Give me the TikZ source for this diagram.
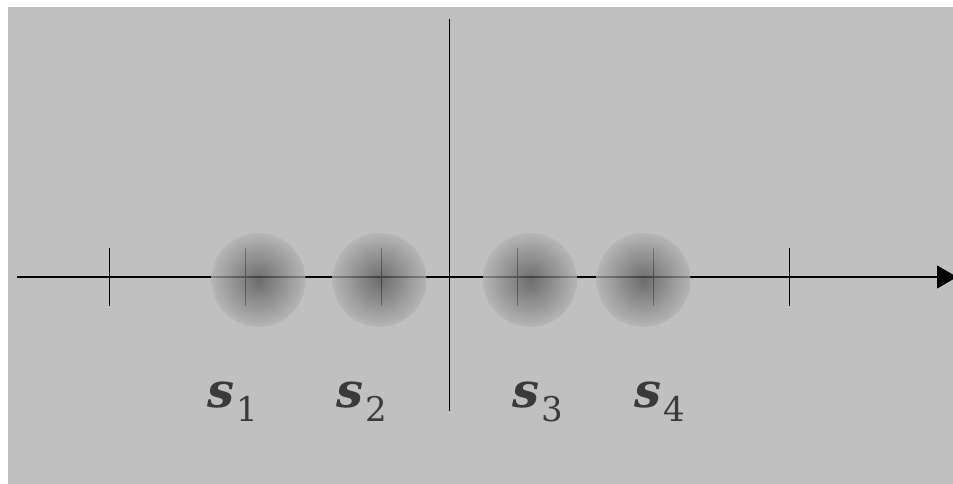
\documentclass[tikz,border=0pt]{standalone}
\usepackage{fontspec}
\setmainfont{DejaVu Serif}
\usepackage{xcolor}
\usetikzlibrary{arrows.meta}
\definecolor{panel}{HTML}{C0C0C0}
\definecolor{lblgray}{HTML}{3A3A3A}

\newcommand{\slabel}[1]{{\fontsize{48}{48}\selectfont\bfseries\itshape s}\kern2pt\raisebox{-14pt}{\fontsize{34}{34}\selectfont #1}}

\begin{document}
\begin{tikzpicture}[x=1pt, y=-1pt,
  axis/.style={line width=1.1pt, black},
  tick/.style={line width=1.1pt, black},
  blob/.style={circle, minimum size=94, inner sep=0pt, shade,
               inner color=black!68, outer color=black!30, opacity=0.75},
  lbl/.style={anchor=base west, inner sep=0pt, text=lblgray}
]
  \useasboundingbox (0,0) rectangle (953,484);
  \fill[panel] (8,7) rectangle (953,484);

  % Axes
  \coordinate (xl) at (17,277);
  \coordinate (xr) at (957,277);
  \coordinate (yt) at (449.5,19);
  \coordinate (yb) at (449.5,411);
  \draw[axis, -{Triangle[length=20pt, width=23pt]}] (xl) -- (xr);
  \draw[axis] (yt) -- (yb);

  % Ticks
  \draw[tick] (109.5,248) -- (109.5,306);
  \draw[tick] (245.5,248) -- (245.5,306);
  \draw[tick] (381.5,248) -- (381.5,306);
  \draw[tick] (517.5,248) -- (517.5,306);
  \draw[tick] (653.5,248) -- (653.5,306);
  \draw[tick] (789.5,248) -- (789.5,306);

  % Blobs
  \node[blob] (s1) at (258.5,280) {};
  \node[blob] (s2) at (379.5,280) {};
  \node[blob] (s3) at (530,280) {};
  \node[blob] (s4) at (643.5,280) {};

  % Labels
  \node[lbl] (l1) at (207,407) {\slabel{1}};
  \node[lbl] (l2) at (336,407) {\slabel{2}};
  \node[lbl] (l3) at (512,407) {\slabel{3}};
  \node[lbl] (l4) at (634,407) {\slabel{4}};
\end{tikzpicture}
\end{document}
